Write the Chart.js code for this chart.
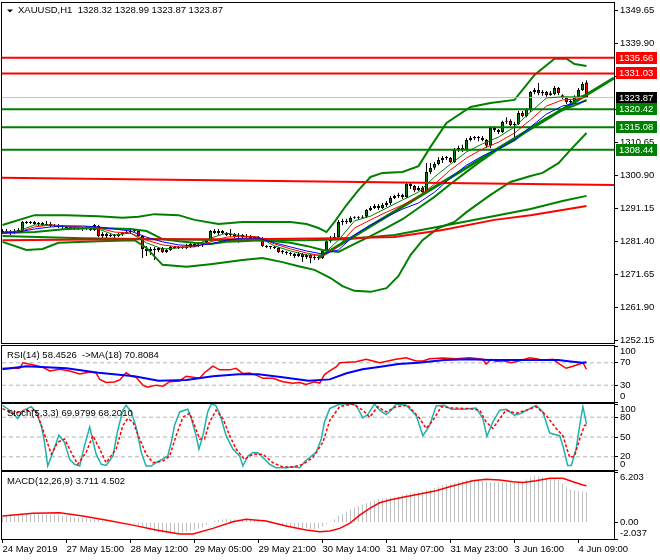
<!DOCTYPE html>
<html>
<head>
<meta charset="utf-8">
<script src="https://cdn.jsdelivr.net/npm/chart.js@4.4.1/dist/chart.umd.min.js"></script>
<style>
  html, body { margin: 0; padding: 0; background: #fff; }
  #wrap { position: relative; width: 660px; height: 560px; overflow: hidden; }
  canvas { position: absolute; left: 0; }
</style>
</head>
<body>
<div id="wrap">
  <canvas id="main" width="660" height="346" style="top:0px"></canvas>
  <canvas id="rsi" width="660" height="72" style="top:338px"></canvas>
  <canvas id="stoch" width="660" height="82" style="top:396px"></canvas>
  <canvas id="macd" width="660" height="96" style="top:464px"></canvas>
</div>
<script>
// x axis: bar index of each time label
const timeTickBars = [0, 16, 32, 48, 64, 80, 96, 112, 128, 144];
const timeLabels = ['24 May 2019', '27 May 15:00', '28 May 12:00', '29 May 05:00', '29 May 21:00',
  '30 May 14:00', '31 May 07:00', '31 May 23:00', '3 Jun 16:00', '4 Jun 09:00'];

const symbol = 'XAUUSD,H1';
const priceTicks = [1252.15, 1261.90, 1271.65, 1281.40, 1291.15, 1300.90, 1310.65, 1320.40, 1330.15, 1339.90, 1349.65];

// H1 candles [open, high, low, close]
const candles = [
  [1284.4, 1285.0, 1283.5, 1284.1], [1284.1, 1285.0, 1283.8, 1284.4], [1284.4, 1284.7, 1283.2, 1283.8],
  [1283.8, 1285.0, 1283.5, 1284.4], [1284.4, 1285.3, 1283.8, 1284.7], [1284.4, 1287.4, 1284.1, 1287.1],
  [1287.1, 1287.4, 1286.5, 1286.8], [1286.8, 1287.4, 1286.5, 1287.1], [1287.1, 1287.4, 1286.2, 1286.5],
  [1286.5, 1287.1, 1285.9, 1286.8], [1286.8, 1287.1, 1285.9, 1286.2], [1286.2, 1287.4, 1285.9, 1286.5],
  [1286.5, 1287.1, 1285.6, 1285.9], [1285.9, 1286.5, 1285.6, 1286.2], [1286.2, 1286.5, 1285.3, 1285.9],
  [1285.9, 1286.2, 1285.0, 1285.6], [1285.6, 1285.9, 1285.0, 1285.3], [1285.3, 1285.6, 1284.7, 1285.3],
  [1285.3, 1285.6, 1284.7, 1285.0], [1285.0, 1285.6, 1284.7, 1285.3], [1285.3, 1285.6, 1284.4, 1285.0],
  [1285.0, 1285.9, 1284.7, 1285.3], [1285.3, 1285.6, 1284.4, 1284.7], [1284.7, 1286.5, 1284.4, 1286.2],
  [1285.9, 1286.2, 1282.6, 1282.9], [1282.9, 1284.1, 1282.3, 1283.5], [1283.5, 1283.8, 1282.3, 1282.9],
  [1282.9, 1283.8, 1282.6, 1283.2], [1283.2, 1283.5, 1282.3, 1282.9], [1282.9, 1283.8, 1282.6, 1283.5],
  [1283.5, 1284.1, 1282.9, 1283.8], [1283.8, 1284.7, 1283.5, 1284.1], [1284.1, 1284.7, 1283.5, 1284.4],
  [1284.4, 1285.0, 1283.8, 1284.4], [1284.4, 1284.7, 1282.6, 1282.9], [1282.9, 1283.2, 1276.4, 1279.1],
  [1279.1, 1280.0, 1277.0, 1278.5], [1278.5, 1279.7, 1277.3, 1279.1], [1279.1, 1279.7, 1275.8, 1278.8],
  [1278.8, 1279.7, 1278.2, 1279.4], [1279.4, 1279.7, 1277.9, 1278.2], [1278.2, 1279.1, 1277.9, 1278.8],
  [1278.8, 1280.0, 1278.5, 1279.7], [1279.7, 1280.0, 1279.1, 1279.4], [1279.4, 1280.0, 1279.1, 1279.7],
  [1279.7, 1280.0, 1279.1, 1279.4], [1279.4, 1280.6, 1279.1, 1279.7], [1279.7, 1280.9, 1279.4, 1280.6],
  [1280.6, 1280.9, 1279.7, 1280.0], [1280.0, 1280.9, 1279.7, 1280.3], [1280.3, 1281.2, 1279.7, 1280.9],
  [1280.9, 1282.0, 1280.6, 1281.7], [1281.7, 1284.7, 1281.4, 1284.4], [1284.4, 1285.0, 1283.5, 1283.8],
  [1283.8, 1285.0, 1283.2, 1284.4], [1284.4, 1284.7, 1283.5, 1283.8], [1283.8, 1284.1, 1282.9, 1283.2],
  [1283.2, 1285.0, 1282.6, 1283.5], [1283.5, 1283.8, 1282.3, 1282.9], [1282.9, 1283.8, 1280.9, 1283.2],
  [1283.2, 1283.5, 1282.0, 1282.6], [1282.6, 1283.5, 1282.3, 1282.9], [1282.9, 1283.2, 1281.7, 1282.3],
  [1282.3, 1282.9, 1281.7, 1282.6], [1282.6, 1282.9, 1281.7, 1282.3], [1282.3, 1282.6, 1279.7, 1280.0],
  [1280.0, 1280.3, 1279.4, 1279.7], [1279.7, 1280.0, 1279.1, 1279.7], [1279.7, 1280.0, 1279.1, 1279.4],
  [1279.4, 1279.7, 1277.9, 1278.2], [1278.2, 1278.8, 1277.6, 1278.2], [1278.2, 1278.5, 1277.3, 1277.9],
  [1277.9, 1278.2, 1277.0, 1277.6], [1277.6, 1277.9, 1276.4, 1277.0], [1277.0, 1278.2, 1276.7, 1277.6],
  [1277.6, 1277.9, 1275.2, 1276.7], [1276.7, 1277.6, 1276.1, 1277.3], [1277.3, 1277.6, 1274.9, 1276.4],
  [1276.4, 1277.3, 1275.8, 1276.7], [1276.7, 1277.0, 1275.8, 1276.4], [1276.4, 1278.8, 1276.1, 1278.5],
  [1278.5, 1281.7, 1278.2, 1281.4], [1281.4, 1282.9, 1280.9, 1282.3], [1282.3, 1283.8, 1281.7, 1282.6],
  [1282.6, 1287.7, 1282.3, 1287.1], [1287.1, 1288.0, 1286.2, 1287.4], [1287.4, 1288.0, 1286.5, 1287.1],
  [1287.1, 1288.8, 1286.8, 1288.3], [1288.3, 1288.8, 1288.0, 1288.6], [1288.6, 1288.8, 1287.7, 1288.3],
  [1288.3, 1289.1, 1288.0, 1288.6], [1288.6, 1290.9, 1288.3, 1290.6], [1290.6, 1291.8, 1290.3, 1291.2],
  [1291.2, 1292.4, 1290.9, 1291.8], [1291.8, 1292.4, 1290.6, 1291.2], [1291.2, 1292.7, 1290.9, 1292.1],
  [1292.1, 1293.3, 1291.5, 1292.7], [1292.7, 1294.8, 1292.1, 1294.2], [1294.2, 1295.1, 1293.9, 1294.8],
  [1294.8, 1295.7, 1294.2, 1295.1], [1295.1, 1295.4, 1293.9, 1294.5], [1294.5, 1298.6, 1294.2, 1298.3],
  [1298.3, 1298.9, 1296.8, 1297.7], [1297.7, 1298.0, 1295.9, 1296.5], [1296.5, 1297.7, 1296.2, 1297.1],
  [1297.1, 1297.7, 1295.7, 1295.9], [1295.9, 1304.5, 1295.7, 1301.9], [1301.9, 1304.5, 1301.3, 1303.1],
  [1303.1, 1304.8, 1302.5, 1304.2], [1304.2, 1306.3, 1303.9, 1305.4], [1305.4, 1306.6, 1304.5, 1306.0],
  [1306.0, 1306.6, 1305.4, 1306.0], [1306.0, 1306.3, 1304.5, 1304.8], [1304.8, 1309.0, 1304.5, 1308.4],
  [1308.4, 1309.6, 1307.8, 1309.0], [1309.0, 1309.9, 1307.8, 1308.4], [1308.4, 1311.9, 1308.1, 1311.3],
  [1311.3, 1312.5, 1311.0, 1311.9], [1311.9, 1312.5, 1311.3, 1312.2], [1312.2, 1312.5, 1311.0, 1311.9],
  [1311.9, 1312.5, 1311.0, 1311.3], [1311.3, 1311.6, 1309.0, 1309.6], [1309.6, 1315.5, 1309.0, 1314.9],
  [1314.9, 1315.5, 1313.7, 1314.3], [1314.3, 1314.6, 1313.1, 1313.7], [1313.7, 1317.0, 1313.4, 1316.7],
  [1316.7, 1318.1, 1316.1, 1317.0], [1317.0, 1317.5, 1315.5, 1315.8], [1315.8, 1316.7, 1312.2, 1316.1],
  [1316.1, 1319.9, 1315.8, 1319.3], [1319.3, 1319.9, 1318.1, 1318.4], [1318.4, 1320.8, 1318.1, 1320.5],
  [1320.2, 1325.8, 1319.6, 1325.5], [1325.5, 1326.7, 1324.9, 1326.1], [1326.1, 1328.2, 1324.6, 1325.2],
  [1325.2, 1326.1, 1324.4, 1325.5], [1325.5, 1325.8, 1324.1, 1324.6], [1324.6, 1325.8, 1324.4, 1325.2],
  [1324.9, 1327.3, 1324.6, 1326.7], [1326.7, 1327.0, 1324.6, 1325.2], [1324.6, 1324.9, 1323.5, 1323.8],
  [1323.8, 1324.1, 1322.0, 1322.6], [1322.6, 1323.5, 1322.0, 1322.9], [1322.6, 1324.6, 1322.3, 1324.1],
  [1324.1, 1326.7, 1323.8, 1326.1], [1326.1, 1328.5, 1325.8, 1327.9], [1328.32, 1328.99, 1323.87, 1323.87]
];

// horizontal levels and trend lines
const levelsRed = [1335.66, 1331.03];
const levelsGreen = [1320.42, 1315.08, 1308.44];
const lastPrice = 1323.87;
const trendUpBars = [79, 152.875];
const trendUp = [1276.5, 1329.7];
const trendDownBars = [-0.125, 152.875];
const trendDown = [1300.2, 1298.0];

// short moving averages
const maBars = [0, 4, 8, 12, 16, 20, 24, 28, 32, 36, 40, 44, 48, 52, 56, 60, 64, 68, 72, 76, 80, 84, 88, 92, 96,
  100, 104, 108, 112, 116, 120, 124, 128, 132, 136, 140, 144, 146];
const maFast = [1284.1, 1284.4, 1286.2, 1286.2, 1285.6, 1285.3, 1285.0, 1283.2, 1283.8, 1280.9, 1279.1, 1279.4,
  1280.0, 1282.3, 1283.8, 1282.9, 1282.6, 1280.0, 1278.5, 1277.3, 1277.3, 1281.7, 1287.4, 1288.8, 1291.2, 1293.6,
  1295.9, 1300.4, 1304.2, 1307.8, 1310.2, 1312.2, 1315.2, 1319.6, 1323.8, 1324.1, 1324.1, 1324.9];
const maMid = [1283.8, 1284.1, 1285.6, 1286.2, 1285.9, 1285.6, 1285.3, 1284.1, 1283.8, 1281.7, 1280.3, 1279.7,
  1279.7, 1281.2, 1282.6, 1282.9, 1282.6, 1280.6, 1279.1, 1277.9, 1277.0, 1280.0, 1285.3, 1287.7, 1290.0, 1292.1,
  1294.5, 1298.3, 1302.5, 1306.0, 1308.7, 1310.7, 1313.4, 1317.3, 1321.4, 1323.2, 1323.5, 1324.1];
const maSlow = [1283.8, 1284.1, 1285.0, 1285.6, 1285.9, 1285.9, 1285.6, 1285.0, 1284.4, 1282.6, 1281.2, 1280.3,
  1280.0, 1280.6, 1281.7, 1282.3, 1282.3, 1280.9, 1279.7, 1278.5, 1277.6, 1278.8, 1283.2, 1286.2, 1288.6, 1290.9,
  1292.7, 1295.9, 1300.1, 1303.9, 1306.6, 1308.7, 1311.3, 1315.2, 1319.0, 1321.4, 1322.3, 1322.9];

// long moving averages
const slowGreenBars = [0, 20, 40, 60, 76, 86, 98, 110, 122, 132, 140, 146];
const slowGreen = [1282.9, 1282.3, 1282.0, 1281.7, 1281.7, 1282.0, 1283.2, 1285.9, 1288.6, 1290.9, 1293.3, 1294.8];
const slowRedBars = [0, 30, 60, 84, 98, 110, 123, 132, 140, 146];
const slowRed = [1281.7, 1282.0, 1282.0, 1282.3, 1282.6, 1284.7, 1287.7, 1289.1, 1290.6, 1291.8];

// Bollinger bands
const bbUpBars = [0, 8, 16, 24, 30, 34, 38, 44, 48, 54, 60, 66, 72, 76, 79, 81, 83, 86, 89, 92, 95, 100, 104, 107,
  111, 117, 122, 128, 133, 138, 141, 143, 146];
const bbUpper = [1286.2, 1289.1, 1289.1, 1288.8, 1288.3, 1288.6, 1289.4, 1289.1, 1287.7, 1286.5, 1287.1, 1287.1,
  1287.1, 1286.5, 1285.3, 1284.1, 1287.1, 1292.1, 1296.5, 1300.4, 1301.6, 1301.9, 1303.6, 1309.3, 1316.4, 1321.1,
  1322.3, 1323.2, 1330.6, 1335.4, 1335.4, 1333.8, 1333.2];
const bbMidBars = [0, 8, 16, 24, 32, 36, 40, 44, 48, 52, 56, 60, 64, 68, 72, 76, 80, 84, 88, 92, 96, 100, 104, 108,
  112, 116, 120, 124, 128, 132, 136, 140, 144, 146];
const bbMiddle = [1283.8, 1284.1, 1285.0, 1285.3, 1285.0, 1284.4, 1282.0, 1281.4, 1280.9, 1280.6, 1281.2, 1281.4,
  1281.7, 1281.4, 1280.9, 1280.0, 1278.8, 1278.2, 1280.6, 1282.9, 1285.3, 1287.9, 1291.2, 1294.5, 1298.3, 1301.9,
  1305.4, 1308.7, 1311.3, 1314.9, 1317.8, 1320.2, 1322.0, 1323.2];
const bbLoBars = [0, 6, 10, 14, 24, 33, 36, 40, 46, 52, 60, 65, 70, 74, 78, 82, 85, 88, 92, 96, 99, 102, 105, 109,
  113, 116, 122, 127, 132, 135, 139, 142, 146];
const bbLower = [1281.2, 1278.8, 1279.1, 1280.9, 1281.4, 1281.7, 1279.4, 1274.4, 1273.8, 1274.6, 1275.8, 1276.4,
  1275.2, 1274.0, 1272.9, 1270.5, 1268.1, 1266.7, 1266.4, 1267.5, 1271.1, 1277.3, 1281.7, 1285.3, 1287.1, 1290.0,
  1295.1, 1298.9, 1300.7, 1301.6, 1304.5, 1308.4, 1313.4];

// RSI(14) and its MA(18)
const rsiTitle = 'RSI(14) 58.4526  ->MA(18) 70.8084';
const rsiTicks = [0, 30, 70, 100];
const rsiLevels = [30, 70];
const rsiBars = [0, 4.3, 5.1, 7.2, 10.1, 11.8, 14.3, 16.8, 19.3, 21.8, 23.4, 24.3, 25.9, 28, 29.3, 30.9, 32.2, 33.4,
  35.1, 36.3, 38.4, 40.1, 41.8, 44.3, 45.9, 47.6, 49.3, 50.5, 52.6, 54.3, 56.8, 58.4, 60.1, 61.8, 63.4, 65.1, 67.6,
  70.1, 72.6, 74.3, 75.9, 78, 79.3, 80.5, 81.8, 83.5, 84.3, 88.4, 90.9, 94.3, 98.4, 100.9, 103.4, 105.1, 106.8,
  110.1, 113.4, 116.8, 120.1, 120.9, 122.2, 123.4, 125.1, 127.2, 129.3, 131.8, 133.4, 135.1, 137.6, 139.3, 140.9,
  142.6, 144.3, 145.1, 146];
const rsiLine = [60.2, 60.2, 70.1, 66.9, 62.1, 55.5, 58.4, 55.5, 49.9, 53.6, 51.8, 40.4, 34.8, 35.7, 39.5, 52.3,
  46.1, 44.2, 30.1, 26.3, 30.1, 28.2, 36.3, 37.6, 46.1, 44.2, 42.3, 52.3, 64, 57.4, 57.4, 60.2, 50.8, 51.8, 48,
  42.3, 42.3, 36.3, 33.4, 34.8, 31.5, 36.3, 33.8, 49, 55.5, 63.1, 70.1, 72, 76.3, 70.1, 76.3, 79.1, 73.2, 73.2,
  77.2, 78.7, 77.2, 79.1, 76.3, 67.8, 76.3, 72.5, 73.5, 70.1, 73.5, 79.1, 77.2, 74.4, 76.3, 67.8, 60.2, 64, 67.8,
  70.1, 58.5];
const rsiMaBars = [0, 6, 16, 24, 33, 39, 46, 52.6, 59, 64, 70, 76.5, 81.8, 86, 90, 94.5, 99, 104, 110.5, 116.5,
  122, 132, 139, 142, 145, 146];
const rsiMa = [58.4, 64, 60.3, 52.3, 46.1, 38.1, 39.5, 46.1, 49.4, 49.4, 44.2, 38.1, 40.4, 51.3, 58.4, 63.1, 67.8,
  70.1, 75, 76.3, 75, 75, 75, 72.5, 70.1, 70.8];

// Stochastic(5,3,3)
const stochTitle = 'Stoch(5,3,3) 69.9799 68.2010';
const stochTicks = [0, 20, 50, 80, 100];
const stochLevels = [20, 50, 80];
const stochBars = [0, 1.8, 3.8, 5.1, 7.2, 8.4, 9.7, 10.5, 11.3, 12.6, 14.1, 15.5, 16.8, 18, 19.3, 20.5, 21.8,
  23.4, 24.7, 25.9, 27.6, 28.8, 30.1, 30.9, 32.2, 33.4, 34.7, 35.9, 37.2, 38.4, 40.1, 41.3, 42.2, 43, 44.3, 45.5,
  46.3, 47.2, 48.4, 49.1, 50.1, 51.3, 52.2, 53.3, 54.3, 55.9, 57.6, 59.3, 60.1, 61.3, 62.6, 63.8, 65.1, 66.8,
  68.4, 70.9, 72.6, 74.3, 75.5, 77.2, 78.4, 79.7, 80.5, 81.8, 84.3, 86.8, 88.4, 90.1, 91.3, 93, 94.3, 95.9, 97.2,
  98.4, 100.9, 103.4, 105.1, 106.8, 108.4, 110.5, 112.2, 115.1, 118.4, 120.1, 121.1, 122.6, 124.3, 125.9, 128,
  129.7, 131.8, 133.4, 135.1, 136.8, 139.3, 140.1, 141.3, 142.2, 143.4, 144.3, 145.1, 146];
const stochMain = [98, 90.6, 78, 90, 96, 88, 67.5, 42, 6, 26.6, 53, 42, 16, 8.6, 6, 37, 65, 24, 8.6, 7, 21, 60,
  90.6, 98, 88, 65, 26.6, 6, 6, 11, 17, 21, 42, 67.5, 88, 90.6, 92, 78, 52, 31.7, 52, 88, 100, 98, 86, 52, 31.7,
  21, 6, 21, 26.6, 26, 19, 8.6, 3.5, 3.5, 5, 3.5, 12.6, 21, 26.6, 47, 72.7, 93, 100, 100, 98, 79, 84, 100, 90.6,
  84, 90.6, 100, 98, 83, 52, 67.5, 97, 98, 92, 92, 94, 78, 51, 73, 90.6, 92, 83, 86, 93, 98, 88, 56, 52, 37, 7, 7,
  31.7, 67.5, 96, 70];
const stochSigBars = [0, 2.6, 5.9, 8.4, 10.9, 12.2, 13.8, 15.5, 17.2, 18.8, 20.9, 22.6, 24.3, 25.9, 28.4, 30.1,
  31.3, 32.6, 34.3, 35.9, 37.6, 40.1, 41.8, 43.4, 45.1, 46.8, 48, 49.3, 50.5, 51.8, 53.4, 55.1, 56.8, 58.4, 60.5,
  62.6, 65.1, 67.6, 70.1, 72.6, 75.1, 77.6, 80.1, 81.8, 84.3, 87.6, 90.1, 91.8, 93.8, 95.9, 98.4, 101.3, 104.3,
  105.9, 107.6, 109.7, 112.2, 116.8, 119.3, 120.9, 122.6, 124.3, 125.9, 128.4, 130.9, 133.4, 135.9, 138.4, 140.1,
  141.8, 143, 144.3, 145.5, 146];
const stochSignal = [93, 86, 90, 90, 47, 24, 42, 47, 26.6, 8.6, 26.6, 52, 31.7, 11, 31.7, 67.5, 78, 73, 47, 24,
  11, 13.6, 21, 52, 80, 86, 67.5, 47, 47, 73, 90.6, 78, 52, 31.7, 16, 24, 24, 11, 4.5, 4.5, 8.6, 19, 42, 75, 96,
  100, 90.6, 80, 96, 88, 96, 98, 78, 63, 75, 96, 94, 93, 90.6, 73, 63, 78, 90.6, 86, 90.6, 96, 83, 63, 52, 19, 21,
  47, 67.5, 68.2];

// MACD(12,26,9): main as histogram, one value per bar, signal as line
const macdTitle = 'MACD(12,26,9) 3.711 4.502';
const macdTicks = [-2.037, 0, 6.203];
const macdHist = [0.8, 0.8, 0.75, 0.8, 0.85, 0.95, 1.0, 1.0, 1.0, 1.0, 1.0, 0.95, 0.95, 0.9, 0.9,
  0.8, 0.75, 0.7, 0.65, 0.6, 0.55, 0.5, 0.45, 0.4, 0.3, 0.2, 0.1, 0.05, 0, -0.05, -0.1,
  -0.05, -0.1, -0.2, -0.3, -0.55, -0.8, -0.95, -1.1, -1.2, -1.3, -1.35, -1.4, -1.35, -1.3,
  -1.2, -1.1, -1.0, -0.9, -0.75, -0.6, -0.3, 0.0, 0.2, 0.3, 0.35, 0.4, 0.4, 0.4, 0.4, 0.35,
  0.35, 0.3, 0.3, 0.25, 0.1, 0.0, -0.1, -0.2, -0.3, -0.4, -0.5, -0.55, -0.6, -0.65, -0.7, -0.75,
  -0.8, -0.8, -0.75, -0.5, -0.2,
  0.1, 0.4, 0.8, 1.0, 1.3, 1.6, 1.8, 2.0, 2.2, 2.4, 2.55, 2.7, 2.85, 2.95, 3.0, 3.1, 3.15, 3.2, 3.35, 3.5,
  3.6, 3.65, 3.7, 3.8, 3.95, 4.05, 4.2, 4.4, 4.6, 4.7, 4.8, 4.9, 5.0, 5.1, 5.2, 5.3, 5.25, 5.2, 5.1, 5.0,
  4.95, 4.9, 4.9, 4.85, 4.85, 4.9, 4.9, 4.95, 5.0, 5.3, 5.55, 5.7, 5.65, 5.55, 5.45, 5.4, 5.3, 5.15, 4.8, 4.4,
  4.05, 3.9, 3.85, 3.8, 3.71];
const macdSigBars = [0, 7.6, 14.3, 20.1, 26.8, 32.6, 38.4, 44.3, 47.6, 52.6, 57.6, 60.9, 65.9, 70.9, 75.9, 79.3,
  81.8, 84.3, 86.8, 89.3, 91.8, 94.3, 96.8, 100.1, 104.3, 108.4, 111.8, 115.1, 117.6, 120.9, 124.3, 127.6, 130.1,
  133.4, 136.8, 140.1, 142.6, 145.1, 146];
const macdSignal = [0.79, 1.12, 1.19, 0.79, 0.2, -0.33, -0.94, -1.43, -1.43, -0.73, 0.09, 0.38, 0.17, -0.44,
  -0.94, -1.14, -1.06, -0.73, -0.12, 0.9, 1.73, 2.42, 2.76, 3.09, 3.49, 3.9, 4.39, 4.81, 5.13, 5.3, 5.22, 5.0, 4.9,
  5.13, 5.42, 5.42, 5.0, 4.6, 4.5];

Chart.defaults.font.family = '"Liberation Sans", Arial, sans-serif';
Chart.defaults.font.size = 9.5;
Chart.defaults.color = '#000';

const xMin = -0.125, xMax = 152.875;
const FONT = '9.5px "Liberation Sans", Arial, sans-serif';

const pts = (bars, vals) => bars.map((b, i) => ({ x: b, y: vals[i] }));
const across = (v) => [{ x: xMin, y: v }, { x: xMax, y: v }];
function line(data, color, width, extra) {
  return Object.assign({ type: 'line', data: data, borderColor: color, borderWidth: width,
    pointRadius: 0, tension: 0, fill: false, order: 1 }, extra || {});
}
function dashed(v) {
  return line(across(v), '#b4b4b4', 1, { borderDash: [4, 3], order: 3 });
}
// labels on the panel edges are pushed inside, like the terminal does
function edgeLabel(top, bottom, text) {
  return (v) => v === top ? ['', text(v)] : v === bottom ? [text(v), ''] : text(v);
}

function xAxis(show) {
  return {
    type: 'linear', min: xMin, max: xMax, offset: false, display: show,
    grid: { drawOnChartArea: false, tickLength: 4, tickColor: '#000', offset: false },
    border: { display: false },
    ticks: { autoSkip: false, maxRotation: 0, align: 'start', padding: 1, color: '#000',
      callback: (v, i) => timeLabels[i] },
    afterBuildTicks: (s) => { s.ticks = timeTickBars.map(v => ({ value: v })); },
    afterFit: (s) => { s.height = show ? 21 : 0; s.paddingLeft = 0; s.paddingRight = 0; }
  };
}
function yAxis(min, max, ticks, fmt) {
  return {
    type: 'linear', position: 'right', min: min, max: max,
    grid: { drawOnChartArea: false, tickLength: 4, tickColor: '#000' },
    border: { display: false },
    ticks: { autoSkip: false, padding: 2, color: '#000', callback: fmt },
    afterBuildTicks: (s) => { s.ticks = ticks.map(v => ({ value: v })); },
    afterFit: (s) => { s.width = 46; s.paddingTop = 0; s.paddingBottom = 0; }
  };
}

const framePlugin = {
  id: 'frame',
  afterDraw(chart) {
    const { ctx, chartArea: a } = chart;
    ctx.save();
    ctx.strokeStyle = '#000';
    ctx.lineWidth = 1;
    ctx.strokeRect(a.left - 0.5, a.top - 0.5, a.right - a.left + 1, a.bottom - a.top + 1);
    ctx.restore();
  }
};
const titlePlugin = {
  id: 'panelTitle',
  afterDraw(chart, args, opts) {
    const { ctx, chartArea: a } = chart;
    ctx.save();
    ctx.font = FONT;
    ctx.fillStyle = '#000';
    ctx.textBaseline = 'middle';
    let x = a.left + 5;
    if (opts.arrow) {
      ctx.beginPath();
      ctx.moveTo(x, a.top + 6.5);
      ctx.lineTo(x + 6, a.top + 6.5);
      ctx.lineTo(x + 3, a.top + 9.5);
      ctx.closePath();
      ctx.fill();
      x += 11;
    }
    ctx.fillText(opts.text, x, a.top + opts.dy);
    ctx.restore();
  }
};
const priceBoxPlugin = {
  id: 'priceBoxes',
  afterDraw(chart, args, opts) {
    const { ctx, chartArea: a } = chart;
    const y = chart.scales.y;
    ctx.save();
    ctx.font = FONT;
    ctx.textBaseline = 'middle';
    opts.boxes.forEach(b => {
      const py = Math.round(y.getPixelForValue(b.value));
      ctx.fillStyle = b.color;
      ctx.fillRect(a.right + 2, py - 6, 41, 12);
      ctx.fillStyle = '#fff';
      ctx.fillText(b.value.toFixed(2), a.right + 5, py);
    });
    ctx.restore();
  }
};

function options(pad, yCfg, showX, title) {
  return {
    responsive: false, animation: false, devicePixelRatio: 1,
    layout: { padding: { left: 2, right: 0, top: pad[0], bottom: pad[1] } },
    plugins: { legend: { display: false }, tooltip: { enabled: false }, panelTitle: title },
    scales: { x: xAxis(showX), y: yCfg }
  };
}

// main price window
const lastBar = candles[candles.length - 1];
const wicks = candles.map((c, i) => ({ x: i, y: [c[2], c[1]] }));
const bodies = candles.map((c, i) => ({ x: i, y: [c[0], c[3]] }));
const bodyColors = candles.map(c => c[3] >= c[0] ? '#008000' : '#ff0000');
const barStyle = { type: 'bar', grouped: false, barPercentage: 1, categoryPercentage: 1, inflateAmount: 0 };

const mainOpts = options([3, 3], yAxis(1251.27, 1351.87, priceTicks, v => v.toFixed(2)), false,
  { text: symbol + '  ' + lastBar.map(v => v.toFixed(2)).join(' '), dy: 7.5, arrow: true });
mainOpts.plugins.priceBoxes = {
  boxes: levelsRed.map(v => ({ value: v, color: '#ff0000' }))
    .concat([{ value: lastPrice, color: '#000000' }])
    .concat(levelsGreen.map(v => ({ value: v, color: '#008000' })))
};

new Chart(document.getElementById('main'), {
  type: 'bar',
  data: { datasets: [
    ...levelsRed.map(v => line(across(v), '#ff0000', 2)),
    ...levelsGreen.map(v => line(across(v), '#008000', 2)),
    line(across(lastPrice), '#c0c0c0', 1),
    line(pts(trendDownBars, trendDown), '#ff0000', 2),
    line(pts(trendUpBars, trendUp), '#008000', 3),
    line(pts(slowRedBars, slowRed), '#ff0000', 2),
    line(pts(slowGreenBars, slowGreen), '#008000', 2),
    line(pts(bbUpBars, bbUpper), '#008000', 2),
    line(pts(bbMidBars, bbMiddle), '#008000', 2),
    line(pts(bbLoBars, bbLower), '#008000', 2),
    line(pts(maBars, maSlow), '#0000ff', 1, { order: 0 }),
    line(pts(maBars, maMid), '#ff0000', 1, { order: 0 }),
    line(pts(maBars, maFast), '#008000', 1, { order: 0 }),
    Object.assign({ data: wicks, backgroundColor: '#000', maxBarThickness: 1, order: 6 }, barStyle),
    Object.assign({ data: bodies, backgroundColor: bodyColors, borderColor: '#000', borderWidth: 1,
      borderSkipped: false, maxBarThickness: 3, minBarLength: 1, order: 5 }, barStyle)
  ] },
  options: mainOpts,
  plugins: [framePlugin, titlePlugin, priceBoxPlugin]
});

// RSI window
new Chart(document.getElementById('rsi'), {
  type: 'line',
  data: { datasets: [
    ...rsiLevels.map(dashed),
    line(pts(rsiBars, rsiLine), '#ff0000', 1.5),
    line(pts(rsiMaBars, rsiMa), '#0000ff', 2, { order: 0 })
  ] },
  options: options([8, 8], yAxis(0, 100, rsiTicks, edgeLabel(100, 0, v => String(v))), false,
    { text: rsiTitle, dy: 9.5 }),
  plugins: [framePlugin, titlePlugin]
});

// Stochastic window
new Chart(document.getElementById('stoch'), {
  type: 'line',
  data: { datasets: [
    ...stochLevels.map(dashed),
    line(pts(stochBars, stochMain), '#20b2aa', 1.5),
    line(pts(stochSigBars, stochSignal), '#ff0000', 1.5, { borderDash: [3, 2], order: 0 })
  ] },
  options: options([8, 8], yAxis(0, 100, stochTicks, edgeLabel(100, 0, v => String(v))), false,
    { text: stochTitle, dy: 9 }),
  plugins: [framePlugin, titlePlugin]
});

// MACD window with the time axis
new Chart(document.getElementById('macd'), {
  type: 'bar',
  data: { datasets: [
    Object.assign({ data: macdHist.map((v, i) => ({ x: i, y: v })), backgroundColor: '#c0c0c0',
      maxBarThickness: 1, order: 2 }, barStyle),
    line(pts(macdSigBars, macdSignal), '#ff0000', 1.5)
  ] },
  options: options([8, 0], yAxis(-2.037, 6.203, macdTicks,
    edgeLabel(6.203, -2.037, v => v === 0 ? '0.00' : v.toFixed(3))), true, { text: macdTitle, dy: 9 }),
  plugins: [framePlugin, titlePlugin]
});
</script>
</body>
</html>
